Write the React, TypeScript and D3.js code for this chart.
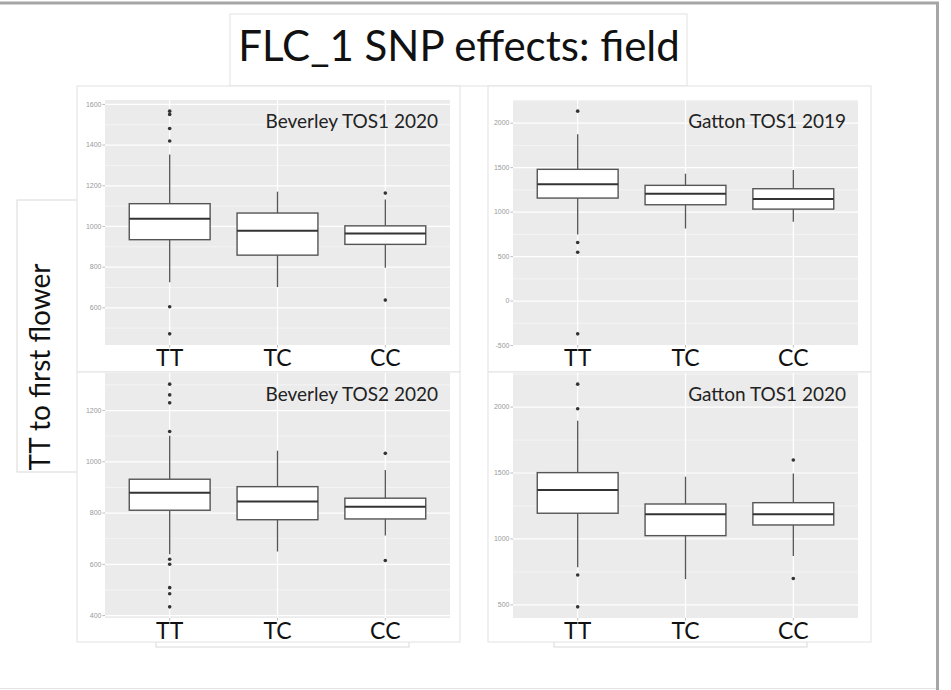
import React from 'react';
import * as d3 from 'd3';

const genotypes = ['TT', 'TC', 'CC'];

// per genotype: [lower whisker, Q1, median, Q3, upper whisker]
const bevTos1Box = [[726, 935, 1038, 1112, 1354], [702, 859, 979, 1066, 1171], [797, 912, 966, 1003, 1133]];
const bevTos1Out = [[1567, 1551, 1482, 1420, 605, 472], [], [1164, 638]];
const bevTos1Ticks = [600, 800, 1000, 1200, 1400, 1600];

const gat2019Box = [[748, 1158, 1312, 1481, 1876], [816, 1083, 1207, 1301, 1432], [891, 1034, 1147, 1263, 1474]];
const gat2019Out = [[2135, 658, 549, -368], [], []];
const gat2019Ticks = [-500, 0, 500, 1000, 1500, 2000];

const bevTos2Box = [[639, 811, 879, 932, 1102], [650, 774, 845, 903, 1043], [712, 777, 825, 858, 968]];
const bevTos2Out = [[1303, 1261, 1230, 1118, 620, 600, 509, 485, 434], [], [1033, 615]];
const bevTos2Ticks = [400, 600, 800, 1000, 1200];

const gat2020Box = [[786, 1195, 1371, 1503, 1896], [695, 1025, 1187, 1265, 1472], [871, 1106, 1187, 1275, 1497]];
const gat2020Out = [[2174, 1987, 727, 485], [], [1599, 700]];
const gat2020Ticks = [500, 1000, 1500, 2000];

const FONT = "Lato, 'Open Sans', sans-serif";

const BoxPanel = ({ title, box, out, ticks, x, y, w, h }) => {
  const all = box.flat().concat(out.flat());
  const lo = d3.min(all);
  const hi = d3.max(all);
  const pad = (hi - lo) * 0.05; // ggplot default expansion
  const yS = d3.scaleLinear().domain([lo - pad, hi + pad]).range([y + h, y]);
  const xS = d3.scalePoint().domain(genotypes).range([x, x + w]).padding(0.6);
  const bw = xS.step() * 0.75;

  // minor breaks halfway between majors
  const step = ticks[1] - ticks[0];
  const minor = [ticks[0] - step / 2, ...ticks.map((t) => t + step / 2)].filter(
    (v) => v > lo - pad && v < hi + pad
  );

  return (
    <g>
      <rect x={x} y={y} width={w} height={h} fill="#ebebeb" />
      {minor.map((v) => (
        <line key={'m' + v} x1={x} x2={x + w} y1={yS(v)} y2={yS(v)} stroke="#f6f6f6" strokeWidth={0.8} />
      ))}
      {ticks.map((v) => (
        <line key={'g' + v} x1={x} x2={x + w} y1={yS(v)} y2={yS(v)} stroke="#fff" strokeWidth={1.2} />
      ))}
      {genotypes.map((g) => (
        <line key={'v' + g} x1={xS(g)} x2={xS(g)} y1={y} y2={y + h} stroke="#fff" strokeWidth={1.2} />
      ))}
      {ticks.map((v) => (
        <g key={'t' + v}>
          <line x1={x - 2.5} x2={x} y1={yS(v)} y2={yS(v)} stroke="#aaa" strokeWidth={0.8} />
          <text x={x - 3.5} y={yS(v) + 2.3} fontSize={7} fill="#999" textAnchor="end" fontFamily="'Liberation Sans', sans-serif">
            {v}
          </text>
        </g>
      ))}
      {genotypes.map((g) => (
        <line key={'xt' + g} x1={xS(g)} x2={xS(g)} y1={y + h} y2={y + h + 2.5} stroke="#aaa" strokeWidth={0.8} />
      ))}
      {genotypes.map((g, i) => {
        const [wl, q1, md, q3, wh] = box[i];
        const cx = xS(g);
        return (
          <g key={'b' + g}>
            <line x1={cx} x2={cx} y1={yS(wh)} y2={yS(q3)} stroke="#555" strokeWidth={1.3} />
            <line x1={cx} x2={cx} y1={yS(q1)} y2={yS(wl)} stroke="#555" strokeWidth={1.3} />
            <rect x={cx - bw / 2} y={yS(q3)} width={bw} height={yS(q1) - yS(q3)} fill="#fff" stroke="#555" strokeWidth={1.4} />
            <line x1={cx - bw / 2} x2={cx + bw / 2} y1={yS(md)} y2={yS(md)} stroke="#333" strokeWidth={2} />
            {out[i].map((o, k) => (
              <circle key={k} cx={cx} cy={yS(o)} r={1.8} fill="#333" />
            ))}
          </g>
        );
      })}
      <text x={x + w - 12} y={y + 28} fontSize={19} fill="#222" textAnchor="end" fontFamily={FONT}>
        {title}
      </text>
      {genotypes.map((g) => (
        <text key={'l' + g} x={xS(g)} y={y + h + 21} fontSize={23} fill="#111" textAnchor="middle" fontFamily={FONT}>
          {g}
        </text>
      ))}
    </g>
  );
};

export default function App() {
  return (
    <div style={{ position: 'absolute', left: 0, top: 0 }}>
      <svg width={951} height={690} style={{ display: 'block', background: '#fff' }}>
        {/* slide edges */}
        <line x1={0} x2={939} y1={3} y2={3} stroke="#a6a6a6" strokeWidth={3} />
        <line x1={937.5} x2={937.5} y1={2} y2={690} stroke="#a6a6a6" strokeWidth={3} />
        <line x1={0} x2={936} y1={688.5} y2={688.5} stroke="#e3e3e3" strokeWidth={1} />

        {/* title box */}
        <rect x={230} y={14} width={457} height={72} fill="#fff" stroke="#e2e2e2" />
        <text x={459} y={61} fontSize={42} fill="#111" textAnchor="middle" fontFamily={FONT}>
          FLC_1 SNP effects: field
        </text>

        {/* y label box */}
        <rect x={17} y={200} width={70} height={272} fill="#fff" stroke="#d9d9d9" />

        {/* image frames */}
        <rect x={77} y={86} width={383} height={286} fill="#fff" stroke="#e2e2e2" />
        <rect x={488} y={86} width={383} height={286} fill="#fff" stroke="#e2e2e2" />
        <rect x={156} y={600} width={253} height={47} fill="#fff" stroke="#d9d9d9" />
        <rect x={554} y={600} width={253} height={47} fill="#fff" stroke="#d9d9d9" />
        <rect x={77} y={372} width={383} height={270} fill="#fff" stroke="#e2e2e2" />
        <rect x={488} y={372} width={383} height={270} fill="#fff" stroke="#e2e2e2" />

        <text
          transform="translate(50,367) rotate(-90)"
          fontSize={28}
          fill="#111"
          textAnchor="middle"
          fontFamily={FONT}
        >
          TT to first flower
        </text>

        <BoxPanel title="Beverley TOS1 2020" box={bevTos1Box} out={bevTos1Out} ticks={bevTos1Ticks} x={105} y={100} w={345} h={245} />
        <BoxPanel title="Gatton TOS1 2019" box={gat2019Box} out={gat2019Out} ticks={gat2019Ticks} x={513} y={100} w={345} h={245} />
        <BoxPanel title="Beverley TOS2 2020" box={bevTos2Box} out={bevTos2Out} ticks={bevTos2Ticks} x={105} y={373} w={345} h={245} />
        <BoxPanel title="Gatton TOS1 2020" box={gat2020Box} out={gat2020Out} ticks={gat2020Ticks} x={513} y={373} w={345} h={245} />
      </svg>
    </div>
  );
}
